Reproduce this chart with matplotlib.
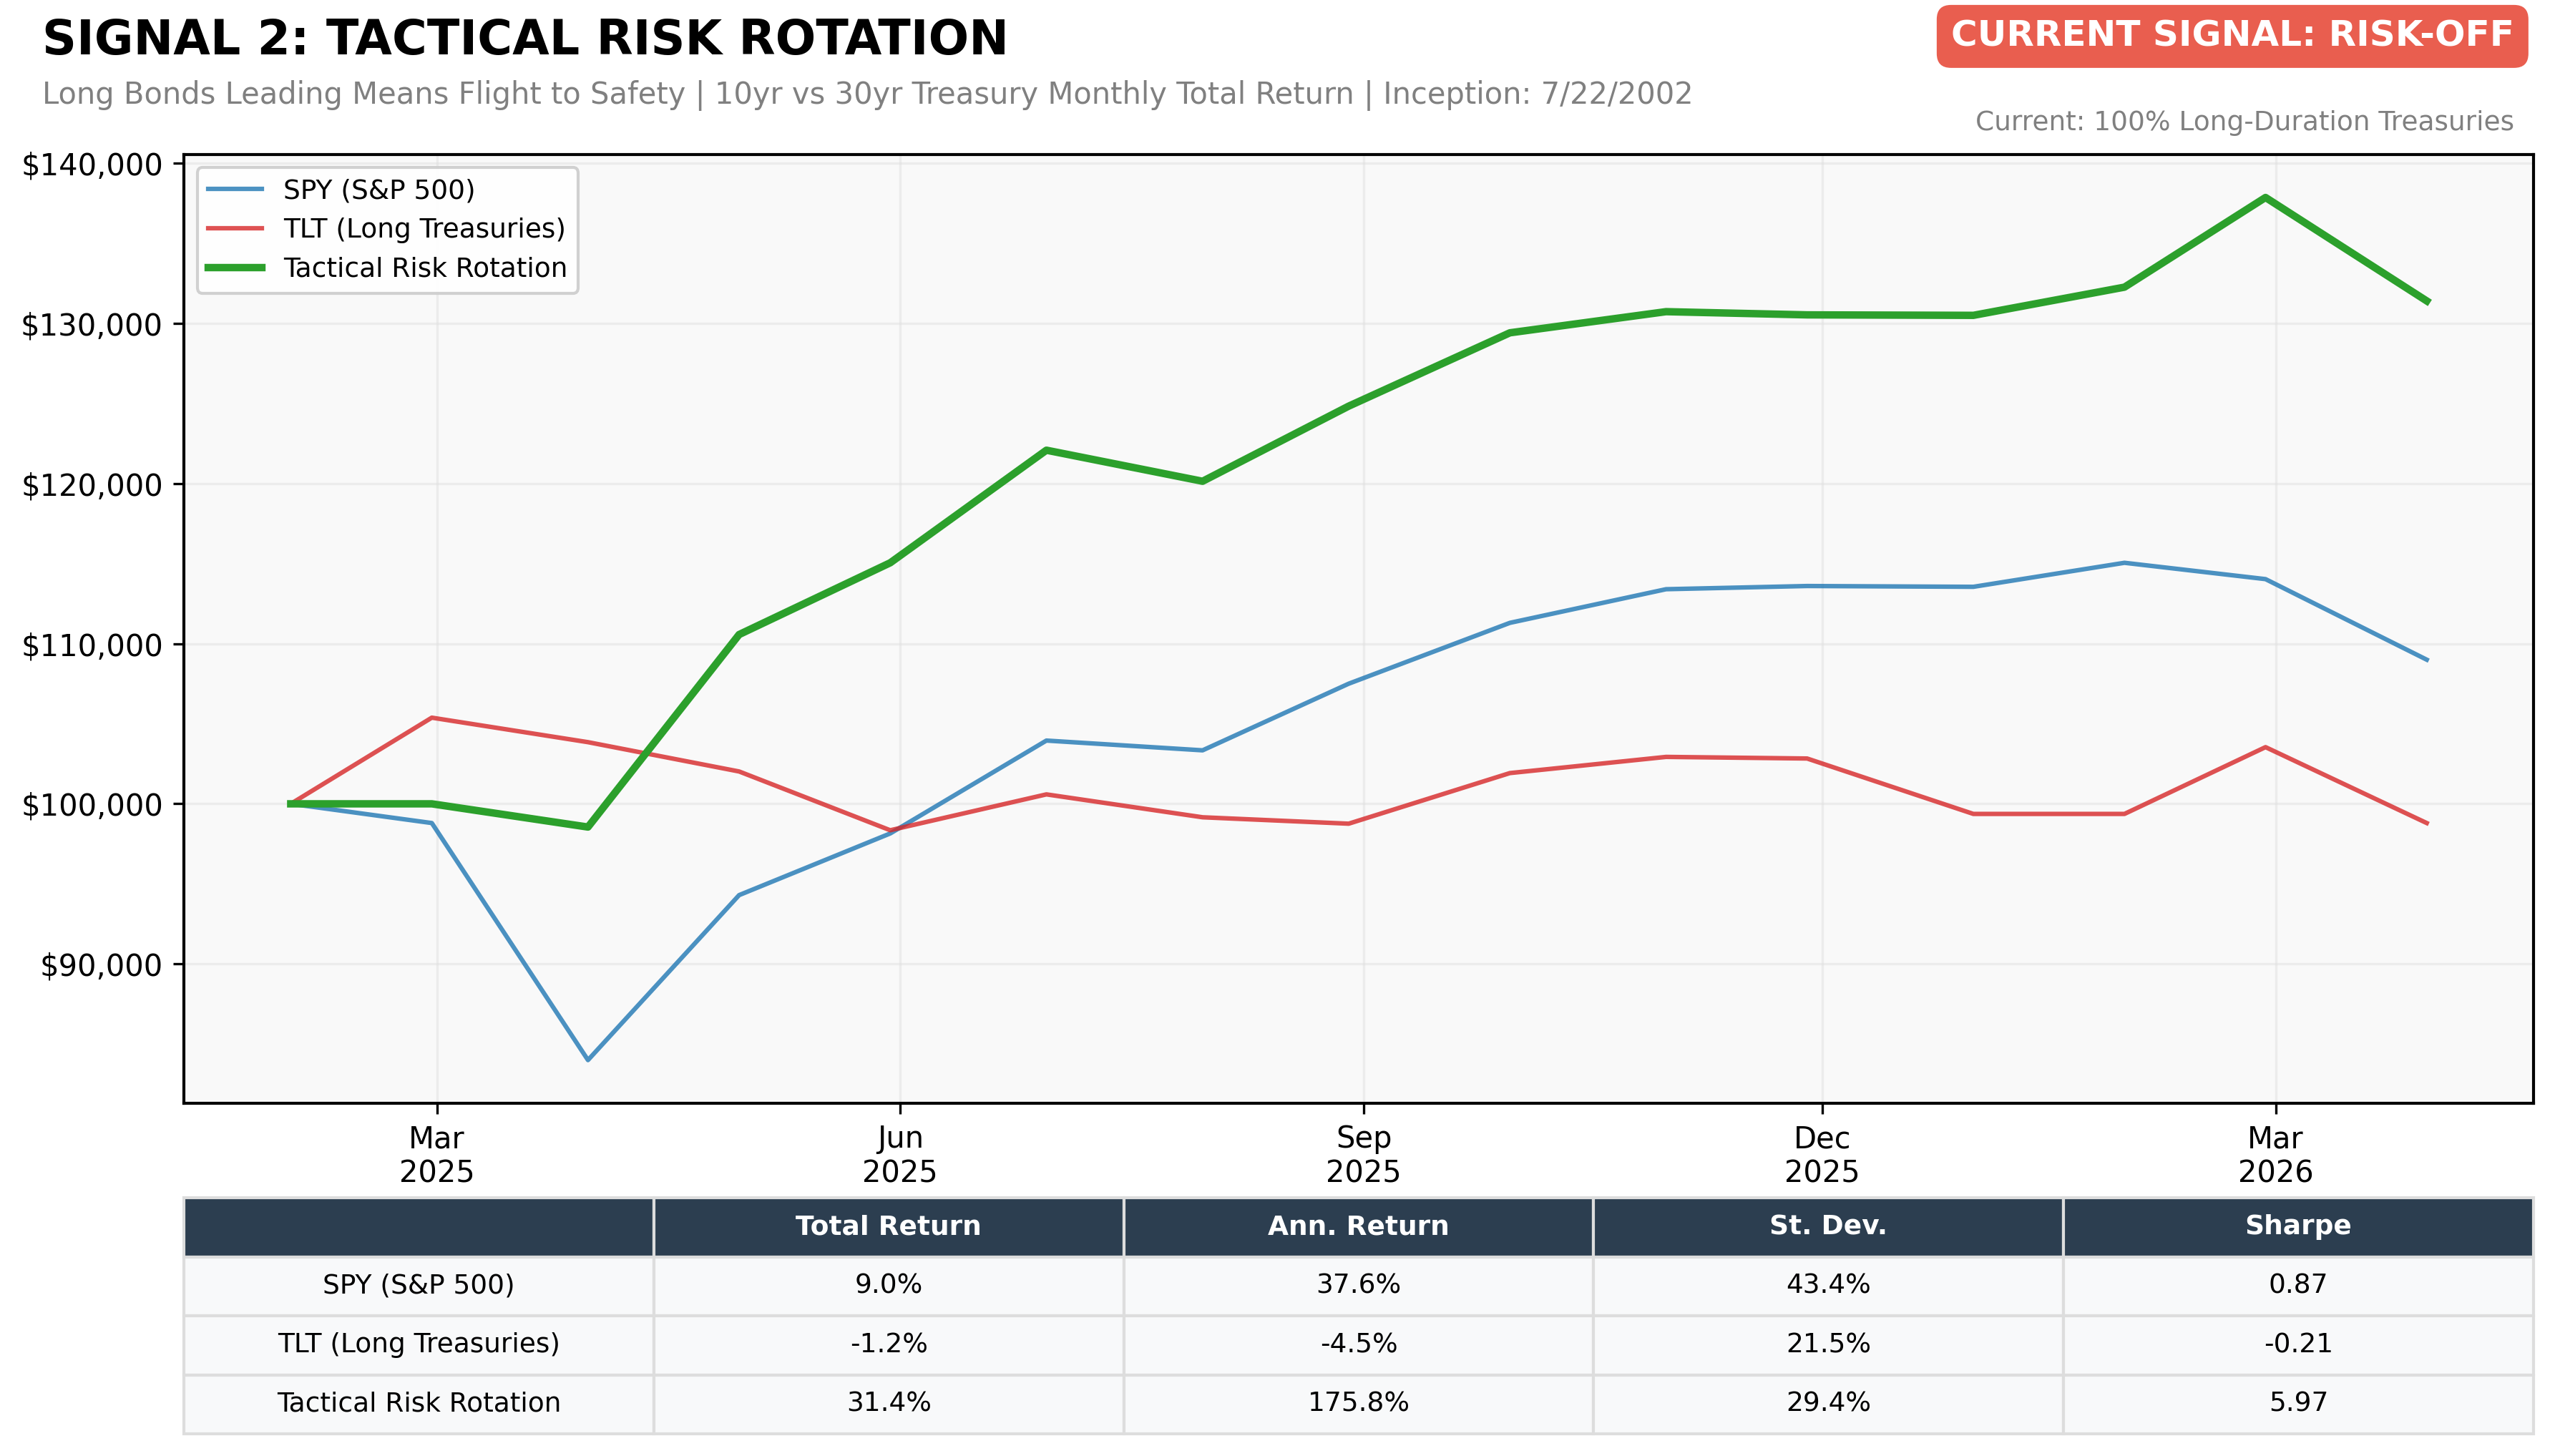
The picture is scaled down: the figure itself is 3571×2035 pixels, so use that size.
import matplotlib
matplotlib.use("Agg")
import matplotlib.pyplot as plt
import matplotlib.dates as mdates
from matplotlib.ticker import FuncFormatter
import pandas as pd

dates = pd.date_range("2025-01-31", "2026-03-31", freq="BME")
spy = [100000, 98800, 84000, 94300, 98150, 103950, 103340, 107500, 111300,
       113400, 113600, 113550, 115050, 114030, 109000]
tlt = [100000, 105380, 103850, 102020, 98350, 100590, 99160, 98760, 101920,
       102930, 102830, 99370, 99370, 103540, 98800]
tactical = [100000, 100000, 98550, 110570, 115050, 122080, 120140, 124830, 129410,
            130730, 130530, 130500, 132260, 137860, 131400]

series_names = ["SPY (S&P 500)", "TLT (Long Treasuries)", "Tactical Risk Rotation"]
col_labels = ["", "Total Return", "Ann. Return", "St. Dev.", "Sharpe"]
total_ret = ["9.0%", "-1.2%", "31.4%"]
ann_ret = ["37.6%", "-4.5%", "175.8%"]
st_dev = ["43.4%", "21.5%", "29.4%"]
sharpe = ["0.87", "-0.21", "5.97"]

plt.rcParams['font.family'] = ['DejaVu Sans']

fig = plt.figure(figsize=(3571/300, 2035/300), dpi=300)
ax = fig.add_axes([0.072, 0.2423, 0.9196, 0.6517])
ax.set_facecolor('#f9f9f9')

ax.plot(dates, spy, color='#1f77b4', alpha=0.8, lw=1.5, label=series_names[0])
ax.plot(dates, tlt, color='#d62728', alpha=0.8, lw=1.5, label=series_names[1])
ax.plot(dates, tactical, color='#2ca02c', lw=2.5, label=series_names[2])

ax.xaxis.set_major_locator(mdates.MonthLocator(bymonth=[3, 6, 9, 12]))
ax.xaxis.set_major_formatter(mdates.DateFormatter('%b\n%Y'))
ax.yaxis.set_major_formatter(FuncFormatter(lambda v, p: f"${v:,.0f}"))
ax.tick_params(labelsize=10)
ax.grid(True, color='#e0e0e0', alpha=0.5, lw=0.8)
for s in ax.spines.values():
    s.set_color('black')
    s.set_linewidth(1.0)
ax.legend(loc='upper left', fontsize=9, framealpha=0.9, edgecolor='#cccccc')

fig.text(0.0165, 0.972, "SIGNAL 2: TACTICAL RISK ROTATION", fontsize=16,
         fontweight='bold', ha='left', va='center')
fig.text(0.0165, 0.9346,
         "Long Bonds Leading Means Flight to Safety | 10yr vs 30yr Treasury Monthly Total Return | Inception: 7/22/2002",
         fontsize=10, color='gray', ha='left', va='center')
fig.text(0.984, 0.975, "CURRENT SIGNAL: RISK-OFF", fontsize=12, fontweight='bold',
         color='white', ha='right', va='center',
         bbox=dict(boxstyle='round,pad=0.4', facecolor='#e74c3c', alpha=0.9, edgecolor='none'))
fig.text(0.984, 0.9155, "Current: 100% Long-Duration Treasuries", fontsize=9,
         color='gray', ha='right', va='center')

tax = fig.add_axes([0.072, 0.0152, 0.9196, 0.1622])
tax.axis('off')
cells = [[series_names[i], total_ret[i], ann_ret[i], st_dev[i], sharpe[i]] for i in range(3)]
tbl = tax.table(cellText=cells, colLabels=col_labels, cellLoc='center',
                loc='center', bbox=[0, 0, 1, 1])
tbl.auto_set_font_size(False)
tbl.set_fontsize(9)
for (r, c), cell in tbl.get_celld().items():
    cell.set_edgecolor('#dddddd')
    cell.set_linewidth(1.0)
    if r == 0:
        cell.set_facecolor('#2c3e50')
        cell.get_text().set_color('white')
        cell.get_text().set_fontweight('bold')
    else:
        cell.set_facecolor('#f8f9fa')

fig.savefig("out.png", dpi=300)
